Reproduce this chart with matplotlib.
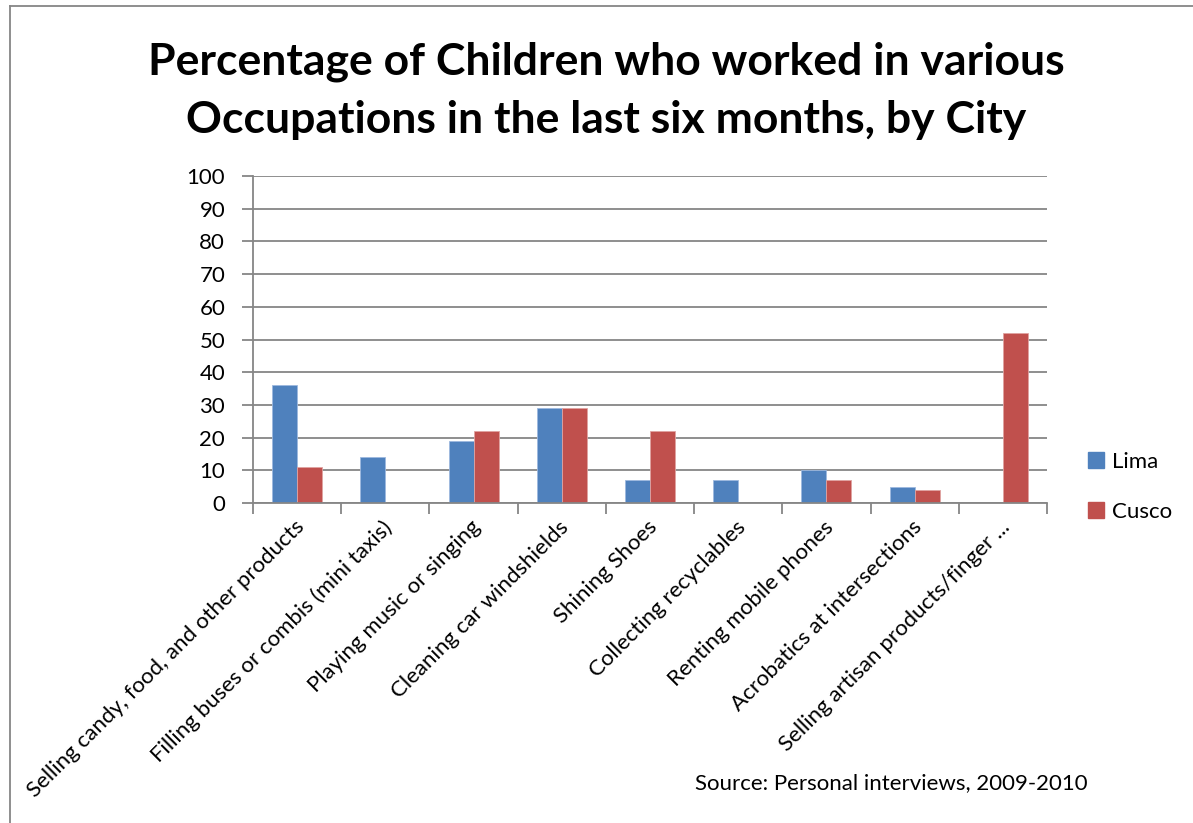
import matplotlib
matplotlib.use("Agg")
import matplotlib.pyplot as plt
import numpy as np
from matplotlib.patches import Rectangle
from matplotlib.lines import Line2D
import matplotlib.transforms as mtransforms

categories = [
    "Selling candy, food, and other products",
    "Filling buses or combis (mini taxis)",
    "Playing music or singing",
    "Cleaning car windshields",
    "Shining Shoes",
    "Collecting recyclables",
    "Renting mobile phones",
    "Acrobatics at intersections",
    "Selling artisan products/finger ...",
]
lima = [36, 14, 19, 29, 7, 7, 10, 5, 0]
cusco = [11, 0, 22, 29, 22, 0, 7, 4, 52]
series_names = ["Lima", "Cusco"]
yticks = list(range(0, 101, 10))
title = "Percentage of Children who worked in various\nOccupations in the last six months, by City"
source = "Source: Personal interviews, 2009-2010"

plt.rcParams['font.family'] = ['Lato', 'DejaVu Sans']

W, H = 1193, 823
fig = plt.figure(figsize=(W / 100, H / 100), dpi=100)
fig.patch.set_facecolor('white')

def fx(px):
    return px / W

def fy(py):
    return 1 - py / H

# outer frame
fig.add_artist(Line2D([fx(10), fx(10)], [fy(6), fy(823)], color='#868686', lw=1.3, transform=fig.transFigure))
fig.add_artist(Line2D([fx(10), fx(1193)], [fy(6), fy(6)], color='#868686', lw=1.3, transform=fig.transFigure))

ax_l, ax_r, ax_t, ax_b = 253, 1047, 176, 503
ax = fig.add_axes([fx(ax_l), fy(ax_b), fx(ax_r - ax_l), (ax_b - ax_t) / H])

blue = '#4F81BD'
red = '#C0504D'
n = len(categories)
x = np.arange(n)
bw = 0.284
ax.bar(x - bw / 2, lima, width=bw, color=blue, edgecolor='#9DB9DF', linewidth=0.6, zorder=3, label=series_names[0])
ax.bar(x + bw / 2, cusco, width=bw, color=red, edgecolor='#E0A3A1', linewidth=0.6, zorder=3, label=series_names[1])

ax.set_xlim(-0.5, n - 0.5)
ax.set_ylim(0, 100)
ax.set_yticks(yticks)
ax.yaxis.grid(True, color='#868686', lw=1.3, zorder=0)
ax.set_axisbelow(True)
for s in ['top', 'right']:
    ax.spines[s].set_visible(False)
for s in ['left', 'bottom']:
    ax.spines[s].set_color('#868686')
    ax.spines[s].set_linewidth(1.3)
    ax.spines[s].set_zorder(4)
ax.tick_params(axis='y', length=8, width=1.3, color='#868686', labelsize=16, pad=12)

ax.set_xticks(x)
ax.set_xticks(np.arange(-0.5, n, 1.0), minor=True)
ax.tick_params(axis='x', which='major', length=0, labelsize=16, pad=0)
ax.tick_params(axis='x', which='minor', length=8, width=1.3, color='#868686')
offset = mtransforms.ScaledTranslation(4 / 100, -21 / 100, fig.dpi_scale_trans)
ax.set_xticklabels(categories, rotation=45, ha='right', va='center', rotation_mode='anchor')
for lab in ax.get_xticklabels():
    lab.set_transform(lab.get_transform() + offset)

fig.text(fx(606), fy(91), title, ha='center', va='center', fontsize=32, fontweight='bold',
         linespacing=1.55)

fig.text(fx(695), fy(783), source, ha='left', va='center', fontsize=16)

handles = [Rectangle((0, 0), 1, 1, color=blue), Rectangle((0, 0), 1, 1, color=red)]
fig.legend(handles, series_names, loc='center left', bbox_to_anchor=(fx(1088), fy(487)),
           frameon=False, fontsize=16, handlelength=0.7, handleheight=0.7,
           handletextpad=0.4, labelspacing=1.35, borderaxespad=0, borderpad=0)

fig.savefig('out.png', dpi=100, facecolor='white')
